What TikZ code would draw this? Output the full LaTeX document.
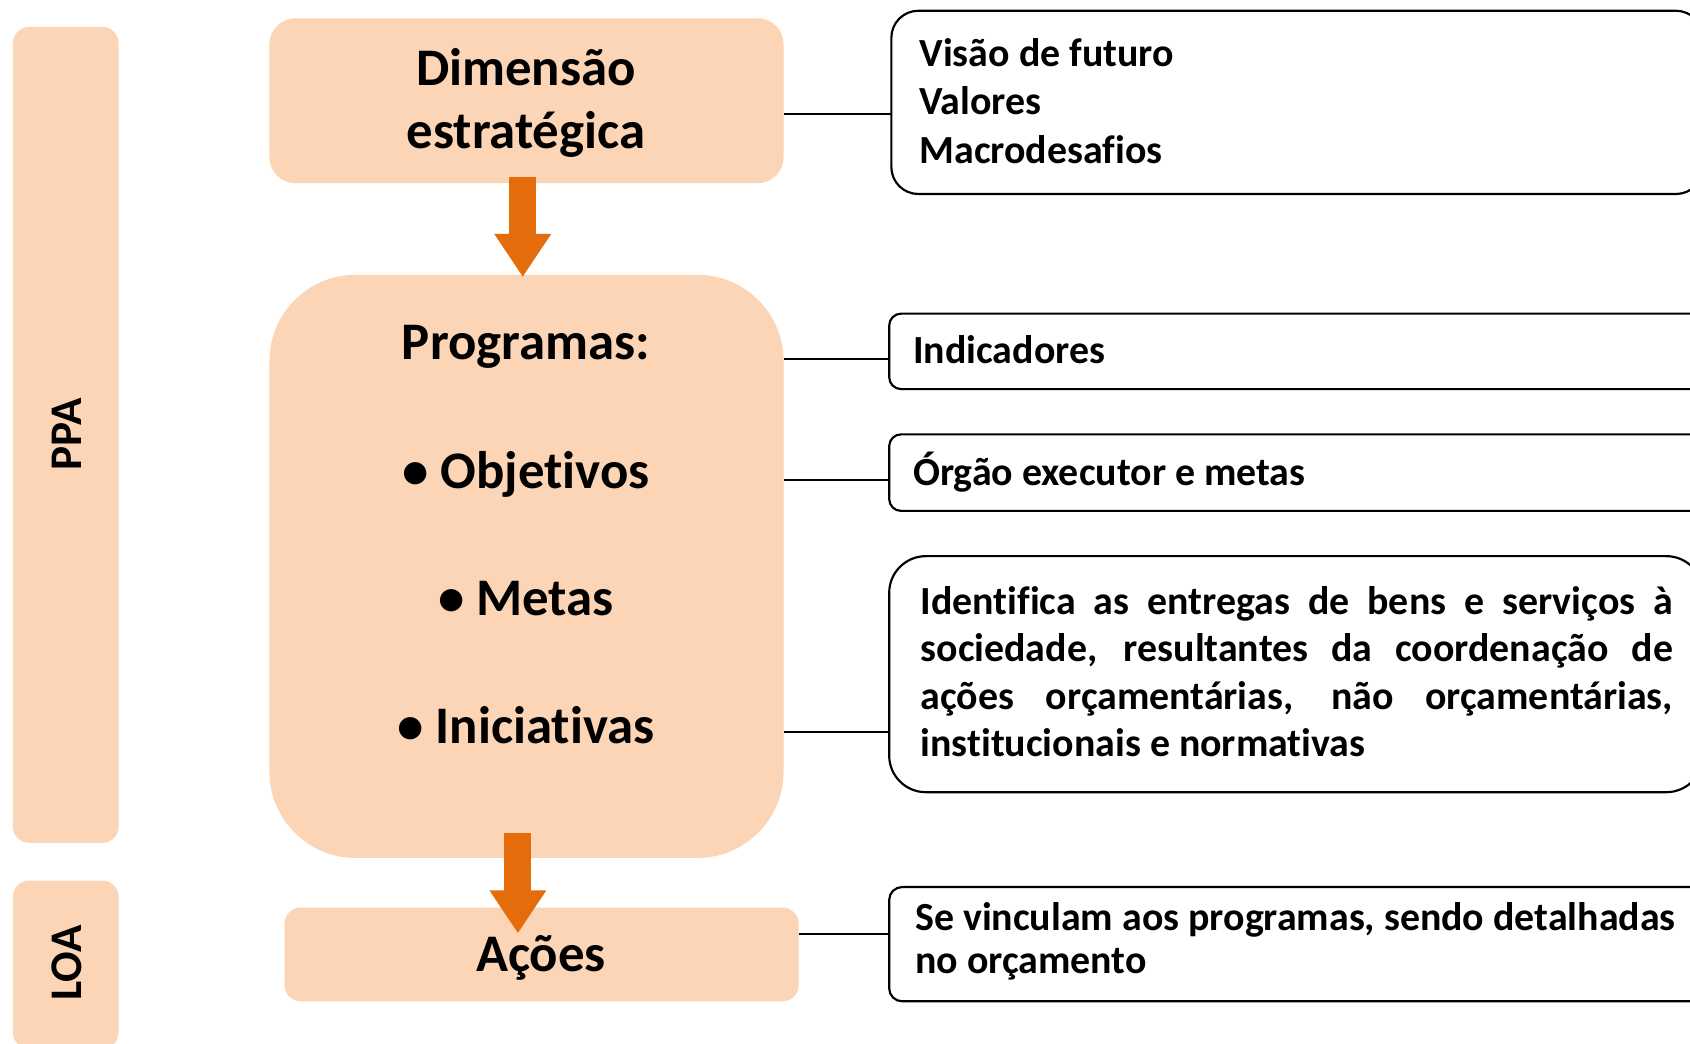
\documentclass[tikz,border=0pt]{standalone}
\usepackage{fontspec}
\setmainfont{Carlito}[Ligatures=CommonOff]
\usetikzlibrary{arrows.meta}
\definecolor{peach}{HTML}{FBD5B5}
\definecolor{arrowor}{HTML}{E46C0A}
\tikzset{
  fillbox/.style={draw=none, fill=peach, inner sep=0pt, outer sep=0pt},
  outbox/.style={draw=black, line width=2pt, fill=white, inner sep=0pt, outer sep=0pt},
  conn/.style={draw=black, line width=1.5pt},
  bigarrow/.style={draw=arrowor, line width=25pt, -{Triangle[length=40pt, width=50pt]}},
  bigtxt/.style={font=\fontsize{49}{59}\selectfont\bfseries, inner sep=0pt, anchor=base},
  smalltxt/.style={font=\fontsize{37}{44}\selectfont\bfseries, inner sep=0pt, anchor=base west},
  sidetxt/.style={font=\fontsize{42}{50}\selectfont\bfseries, inner sep=0pt, rotate=90},
}
\begin{document}
\begin{tikzpicture}[x=1pt,y=-1pt]
\useasboundingbox (0,0) rectangle (1568,968);
\clip (0,0) rectangle (1568,968);
\fill[white] (0,0) rectangle (1568,968);

% side bars
\node[fillbox, rounded corners=15pt, minimum width=98pt, minimum height=757pt] (ppa) at (61,403.5) {};
\node[sidetxt] (ppat) at (62,403) {PPA};
\node[fillbox, rounded corners=15pt, minimum width=98pt, minimum height=156pt] (loa) at (61,895) {};
\node[sidetxt] (loat) at (62,893.5) {LOA};

% left boxes
\node[fillbox, rounded corners=24pt, minimum width=477pt, minimum height=153pt] (box1) at (488.5,93.5) {};
\node[bigtxt] (t1a) at (488,79) {Dimensão};
\node[bigtxt] (t1b) at (488,138) {estratégica};

\node[fillbox, rounded corners=80pt, minimum width=477pt, minimum height=541pt] (box2) at (488.5,525.5) {};
\node[bigtxt] (p1) at (488,334) {Programas:};
\node[bigtxt] (p2) at (488,453) {\textbullet\ Objetivos};
\node[bigtxt] (p3) at (488,571) {\textbullet\ Metas};
\node[bigtxt] (p4) at (488,690) {\textbullet\ Iniciativas};

\node[fillbox, rounded corners=15pt, minimum width=477pt, minimum height=87pt] (box3) at (502.5,885.5) {};
\node[bigtxt] (t3) at (502,901) {Ações};

% arrows
\coordinate (a1s) at (485,164);
\coordinate (a1e) at (485,257);
\coordinate (a2s) at (480.5,773);
\coordinate (a2e) at (480.5,866);
\draw[bigarrow] (a1s) -- (a1e);
\draw[bigarrow] (a2s) -- (a2e);

% right boxes
\node[outbox, rounded corners=25pt, minimum width=753pt, minimum height=170pt] (rA) at (1203.5,95) {};
\node[smalltxt] (rA1) at (853,62) {Visão de futuro};
\node[smalltxt] (rA2) at (853,106.7) {Valores};
\node[smalltxt] (rA3) at (853,151.5) {Macrodesafios};

\node[outbox, rounded corners=11pt, minimum width=775pt, minimum height=70pt] (rB) at (1212.5,326) {};
\node[smalltxt] (rBt) at (847,337) {Indicadores};

\node[outbox, rounded corners=11pt, minimum width=775pt, minimum height=71pt] (rC) at (1212.5,438.5) {};
\node[smalltxt] (rCt) at (847,450) {Órgão executor e metas};

\node[outbox, rounded corners=34pt, minimum width=755pt, minimum height=219pt] (rD) at (1202.5,625.5) {};
\node[smalltxt] (rD1) at (854,570) {\makebox[698pt][s]{Identifica as entregas de bens e serviços à}};
\node[smalltxt] (rD2) at (854,614) {\makebox[698pt][s]{sociedade, resultantes da coordenação de}};
\node[smalltxt] (rD3) at (854,658) {\makebox[698pt][s]{ações orçamentárias, não orçamentárias,}};
\node[smalltxt] (rD4) at (854,702) {institucionais e normativas};

\node[outbox, rounded corners=12pt, minimum width=775pt, minimum height=106pt] (rE) at (1212.5,876) {};
\node[smalltxt] (rE1) at (849,863) {Se vinculam aos programas, sendo detalhadas};
\node[smalltxt] (rE2) at (849,903) {no orçamento};

% connectors
\coordinate (c1) at (0,105.7);
\coordinate (c2) at (0,333);
\coordinate (c3) at (0,445.5);
\coordinate (c4) at (0,679);
\coordinate (c5) at (0,866.8);
\draw[conn] (box1.east |- c1) -- (rA.west |- c1);
\draw[conn] (box2.east |- c2) -- (rB.west |- c2);
\draw[conn] (box2.east |- c3) -- (rC.west |- c3);
\draw[conn] (box2.east |- c4) -- (rD.west |- c4);
\draw[conn] (box3.east |- c5) -- (rE.west |- c5);
\end{tikzpicture}
\end{document}
